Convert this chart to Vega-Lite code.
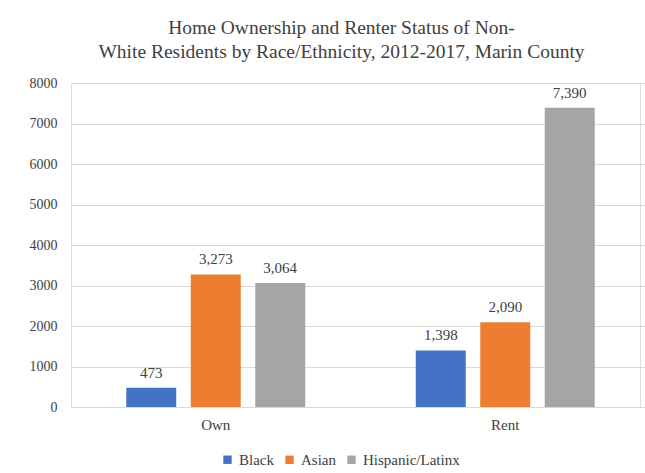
{
  "$schema": "https://vega.github.io/schema/vega-lite/v6.json",
  "width": 569,
  "height": 324,
  "autosize": "none",
  "padding": {"left": 71, "top": 83, "right": 5, "bottom": 66},
  "background": "white",
  "config": {
    "font": "Liberation Serif",
    "legend": {"labelFont": "Liberation Serif", "labelFontSize": 15, "labelColor": "#404040"},
    "axis": {"labelFont": "Liberation Serif"}
  },
  "title": {
    "text": ["Home Ownership and Renter Status of Non-", "White Residents by Race/Ethnicity, 2012-2017, Marin County"],
    "font": "Liberation Serif",
    "fontSize": 19.5,
    "fontWeight": "normal",
    "color": "#404040",
    "lineHeight": 24,
    "anchor": "middle",
    "dx": -14,
    "offset": 14
  },
  "data": {
    "values": [
      {"status": "Own", "group": "Black", "value": 473},
      {"status": "Own", "group": "Asian", "value": 3273},
      {"status": "Own", "group": "Hispanic/Latinx", "value": 3064},
      {"status": "Rent", "group": "Black", "value": 1398},
      {"status": "Rent", "group": "Asian", "value": 2090},
      {"status": "Rent", "group": "Hispanic/Latinx", "value": 7390}
    ]
  },
  "encoding": {
    "x": {
      "field": "status", "type": "nominal", "title": null,
      "scale": {"range": [0, 579], "paddingInner": 0, "paddingOuter": 0},
      "axis": {"labelAngle": 0, "ticks": false, "domainColor": "#D9D9D9", "labelFont": "Liberation Serif", "labelFontSize": 15, "labelColor": "#404040", "labelPadding": 10, "grid": false}
    },
    "xOffset": {
      "field": "group", "type": "nominal",
      "sort": ["Black", "Asian", "Hispanic/Latinx"],
      "scale": {"paddingInner": 0.225, "paddingOuter": 0.857}
    },
    "y": {
      "field": "value", "type": "quantitative", "title": null,
      "scale": {"domain": [0, 8000]},
      "axis": {"values": [0,1000,2000,3000,4000,5000,6000,7000,8000], "format": "d", "ticks": false, "domain": false, "gridColor": "#D9D9D9", "labelFont": "Liberation Serif", "labelFontSize": 14, "labelColor": "#404040", "labelPadding": 14}
    }
  },
  "layer": [
    {
      "mark": {"type": "bar", "clip": false},
      "encoding": {
        "color": {
          "field": "group", "type": "nominal",
          "sort": ["Black", "Asian", "Hispanic/Latinx"],
          "scale": {"domain": ["Black", "Asian", "Hispanic/Latinx"], "range": ["#4472C4", "#ED7D31", "#A5A5A5"]},
          "legend": {"title": null, "orient": "none", "legendX": 149, "legendY": 369, "direction": "horizontal", "symbolType": "square", "symbolSize": 70, "symbolStrokeWidth": 0, "labelFont": "Liberation Serif", "labelFontSize": 15, "labelColor": "#404040", "labelOffset": 4, "columnPadding": 8}
        }
      }
    },
    {
      "mark": {"type": "text", "baseline": "alphabetic", "dy": -10, "font": "Liberation Serif", "fontSize": 15, "color": "#404040"},
      "encoding": {"text": {"field": "value", "type": "quantitative", "format": ","}}
    }
  ]
}
